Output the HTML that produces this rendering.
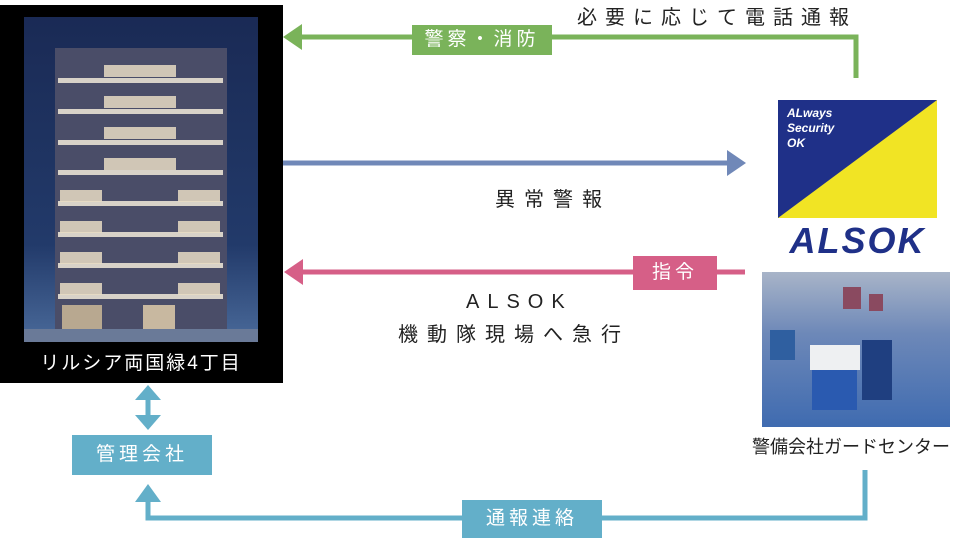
<!DOCTYPE html>
<html><head><meta charset="utf-8"><style>
body{margin:0;width:957px;height:536px;background:#fff;position:relative;overflow:hidden;font-family:"Liberation Sans","Noto Sans CJK JP",sans-serif}
.a{position:absolute}
.t{position:absolute;color:#222;font-size:20px;letter-spacing:4px;white-space:nowrap}
.lb{position:absolute;color:#fff;font-size:19px;letter-spacing:4px;text-align:center}
</style></head><body>
<svg class="a" style="left:0;top:0" width="957" height="536">
<polyline points="856,78 856,37 300,37" fill="none" stroke="#7ab35a" stroke-width="5"/>
<polygon points="283,37 302,24 302,50" fill="#7ab35a"/>
<line x1="283" y1="163" x2="730" y2="163" stroke="#7088b8" stroke-width="5"/>
<polygon points="746,163 727,150 727,176" fill="#7088b8"/>
<line x1="745" y1="272" x2="300" y2="272" stroke="#d65f87" stroke-width="5"/>
<polygon points="284,272 303,259 303,285" fill="#d65f87"/>
<line x1="148" y1="398" x2="148" y2="418" stroke="#63afc9" stroke-width="5"/>
<polygon points="148,385 135,400 161,400" fill="#63afc9"/>
<polygon points="148,430 135,415 161,415" fill="#63afc9"/>
<polyline points="865,470 865,518 148,518 148,500" fill="none" stroke="#63afc9" stroke-width="5"/>
<polygon points="148,484 135,502 161,502" fill="#63afc9"/>
<rect x="0" y="5" width="283" height="378" fill="#000"/>
<defs><linearGradient id="sky" x1="0" y1="0" x2="0" y2="1"><stop offset="0" stop-color="#1a2a55"/><stop offset="0.7" stop-color="#223a6a"/><stop offset="1" stop-color="#4a6a9a"/></linearGradient></defs>
<rect x="24" y="17" width="234" height="325" fill="url(#sky)"/>
<rect x="55" y="48" width="172" height="282" fill="#4a4d68"/>
<g fill="#d8d2c8">
<rect x="58" y="78" width="165" height="5"/><rect x="58" y="109" width="165" height="5"/><rect x="58" y="140" width="165" height="5"/><rect x="58" y="170" width="165" height="5"/><rect x="58" y="201" width="165" height="5"/><rect x="58" y="232" width="165" height="5"/><rect x="58" y="263" width="165" height="5"/><rect x="58" y="294" width="165" height="5"/>
</g>
<g fill="#e8dcc4" opacity="0.85">
<rect x="104" y="65" width="72" height="12"/><rect x="104" y="96" width="72" height="12"/><rect x="104" y="127" width="72" height="12"/><rect x="104" y="158" width="72" height="12"/>
<rect x="60" y="190" width="42" height="12"/><rect x="178" y="190" width="42" height="12"/><rect x="60" y="221" width="42" height="12"/><rect x="178" y="221" width="42" height="12"/><rect x="60" y="252" width="42" height="12"/><rect x="178" y="252" width="42" height="12"/><rect x="60" y="283" width="42" height="12"/><rect x="178" y="283" width="42" height="12"/>
</g>
<rect x="62" y="305" width="40" height="25" fill="#b8a890"/><rect x="143" y="305" width="32" height="25" fill="#c8b8a0"/>
<rect x="24" y="329" width="234" height="13" fill="#6a7a98"/>
<rect x="778" y="100" width="159" height="118" fill="#1f3088"/>
<polygon points="937,100 937,218 778,218" fill="#f1e424"/>
<defs><linearGradient id="ph" x1="0" y1="0" x2="0" y2="1"><stop offset="0" stop-color="#a8b4c8"/><stop offset="0.4" stop-color="#6d88b8"/><stop offset="1" stop-color="#3f6bb0"/></linearGradient></defs>
<rect x="762" y="272" width="188" height="155" fill="url(#ph)"/>
<rect x="843" y="287" width="18" height="22" fill="#8a4a60"/><rect x="869" y="294" width="14" height="17" fill="#8a4a60"/>
<rect x="810" y="345" width="50" height="25" fill="#eef0f2"/><rect x="812" y="370" width="45" height="40" fill="#2a5ab0"/>
<rect x="862" y="340" width="30" height="60" fill="#1f3f80"/><rect x="770" y="330" width="25" height="30" fill="#2f5fa0"/>
</svg>
<div class="a" style="left:24px;top:348px;width:234px;text-align:center;color:#fff;font-size:19px;letter-spacing:2px">リルシア両国緑4丁目</div>
<div class="a" style="left:787px;top:106px;color:#fff;font-size:12px;font-weight:bold;font-style:italic;line-height:15px">ALways<br>Security<br>OK</div>
<div class="a" style="left:778px;top:220px;width:159px;text-align:center;color:#1f3088;font-size:36px;font-weight:bold;font-style:italic;letter-spacing:2px">ALSOK</div>
<div class="t" style="left:752px;top:433px;font-size:18px;letter-spacing:0">警備会社ガードセンター</div>
<div class="t" style="left:577px;top:1px;letter-spacing:8px">必要に応じて電話通報</div>
<div class="lb" style="left:412px;top:25px;width:140px;height:30px;line-height:29px;background:#7ab35a">警察・消防</div>
<div class="t" style="left:495px;top:183px;letter-spacing:9px">異常警報</div>
<div class="lb" style="left:633px;top:256px;width:84px;height:34px;line-height:33px;background:#d65f87">指令</div>
<div class="t" style="left:466px;top:291px;letter-spacing:8px">ALSOK</div>
<div class="t" style="left:398px;top:318px;letter-spacing:9px">機動隊現場へ急行</div>
<div class="lb" style="left:72px;top:435px;width:140px;height:40px;line-height:39px;background:#63afc9">管理会社</div>
<div class="lb" style="left:462px;top:500px;width:140px;height:38px;line-height:37px;background:#63afc9">通報連絡</div>
</body></html>
